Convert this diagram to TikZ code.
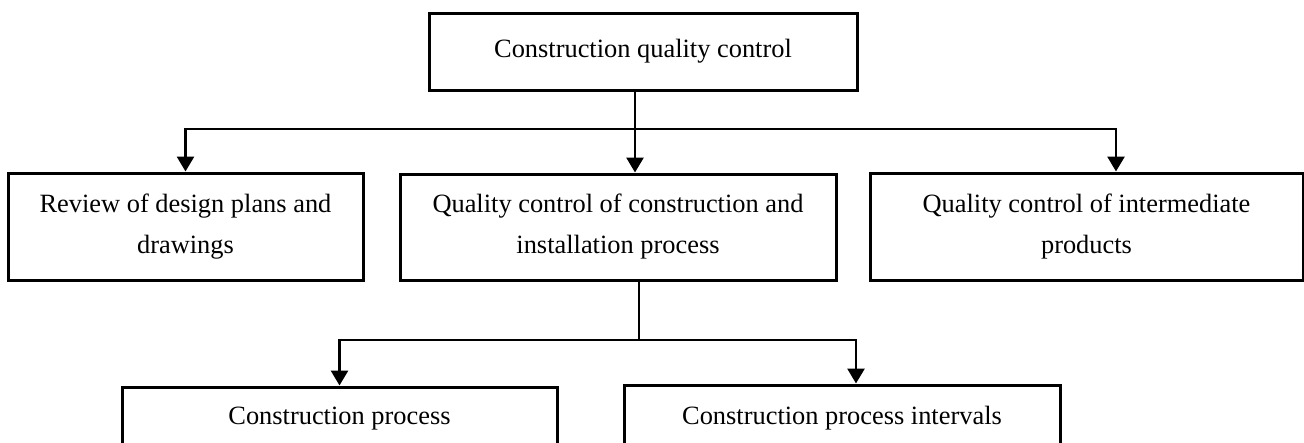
\documentclass[tikz,border=0pt]{standalone}
\usepackage{fontspec}
\setmainfont{Liberation Serif}
\usetikzlibrary{arrows.meta,calc}
\begin{document}
\begin{tikzpicture}[x=1pt,y=-1pt,
  box/.style={draw, line width=3pt, inner sep=0pt, align=center, font=\fontsize{26.4}{41}\selectfont},
  conn/.style={line width=2.8pt},
  arr/.style={conn, -{Triangle[width=17pt,length=15pt]}}]
\useasboundingbox (0,0) rectangle (1304,442);
\fill[white] (0,0) rectangle (1304,442);
\clip (0,0) rectangle (1304,442);
% nodes
\node[box, minimum width=428, minimum height=77] (top) at (643,51.5) {Construction quality control};
\node[box, minimum width=355, minimum height=107] (left) at (185.5,226.5) {Review of design plans and\\drawings};
\node[box, minimum width=436, minimum height=106] (mid) at (618,227) {Quality control of construction and\\installation process};
\node[box, minimum width=433, minimum height=107] (right) at (1086.5,226.5) {Quality control of intermediate\\products};
\node[box, minimum width=435, minimum height=64] (bl) at (339.5,419) {Construction process};
\node[box, minimum width=436, minimum height=66] (br) at (842,418) {Construction process intervals};
% connectors
\coordinate (j1) at (635,129);
\coordinate (j2) at (639,340);
\draw[conn] (top.south -| j1) -- (j1);
\draw[arr] (j1) -| (left.north);
\draw[arr] (j1) -- (j1 |- mid.north);
\draw[arr] (j1) -| ([xshift=29.5pt]right.north);
\draw[conn] (mid.south -| j2) -- (j2);
\draw[arr] (j2) -| (bl.north);
\draw[arr] (j2) -| ([xshift=14pt]br.north);
\end{tikzpicture}
\end{document}
